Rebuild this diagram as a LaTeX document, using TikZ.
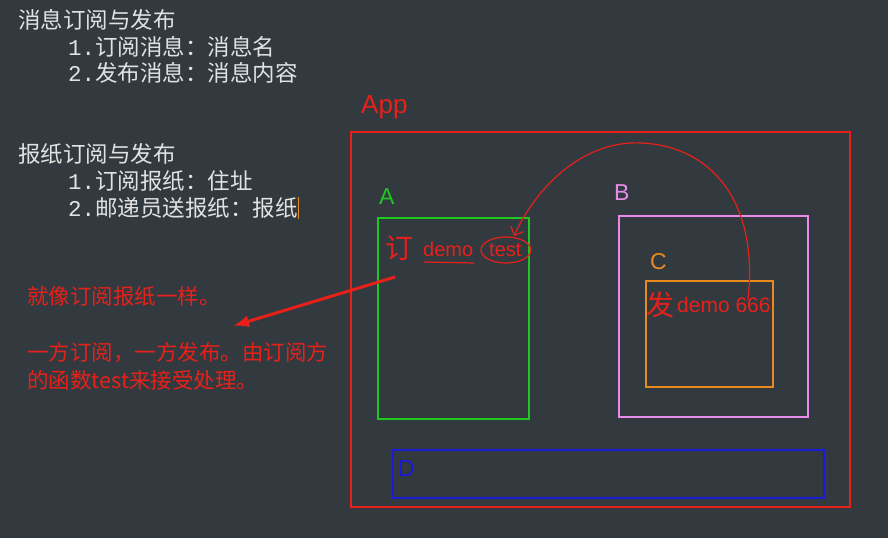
\documentclass[tikz,border=0pt]{standalone}
\usepackage{fontspec}
\setmainfont{Liberation Sans}
\newfontfamily\cjk{Noto Sans CJK SC}
\usetikzlibrary{arrows.meta}
\definecolor{bgdark}{HTML}{323A40}
\definecolor{notewhite}{HTML}{E2E2E2}
\definecolor{inkred}{HTML}{E8201A}
\definecolor{boxgreen}{HTML}{1EC81E}
\definecolor{boxpink}{HTML}{E98CE9}
\definecolor{boxorange}{HTML}{E98A1E}
\definecolor{boxblue}{HTML}{1A1AD8}
\tikzset{
  note/.style={anchor=west,inner sep=0pt,text=notewhite,font=\cjk\fontsize{22.5}{22.5}\selectfont},
  remark/.style={anchor=west,inner sep=0pt,text=inkred,font=\cjk\fontsize{21.5}{21.5}\selectfont},
  label/.style={anchor=west,inner sep=0pt,font=\fontsize{23}{23}\selectfont},
  region/.style={draw,line width=1.5pt},
  ink/.style={draw=inkred,line width=1.2pt}
}
\begin{document}
\begin{tikzpicture}[x=1pt,y=-1pt]
  \fill[bgdark] (0,0) rectangle (888,538);
  \useasboundingbox (0,0) rectangle (888,538);
  % notes
  \node[note] (n1) at (18,20) {消息订阅与发布};
  \node[note] (n2) at (68,47) {\fontspec{Liberation Mono}1.\cjk 订阅消息：消息名};
  \node[note] (n3) at (68,73) {\fontspec{Liberation Mono}2.\cjk 发布消息：消息内容};
  \node[note] (n4) at (18,154) {报纸订阅与发布};
  \node[note] (n5) at (68,181) {\fontspec{Liberation Mono}1.\cjk 订阅报纸：住址};
  \node[note] (n6) at (68,208) {\fontspec{Liberation Mono}2.\cjk 邮递员送报纸：报纸};
  \draw[boxorange,line width=1pt] ([xshift=1pt]n6.north east) -- ([xshift=1pt]n6.south east);
  % remarks
  \node[remark] (r1) at (27,296) {就像订阅报纸一样。};
  \node[remark] (r2) at (27,353) {一方订阅，一方发布。由订阅方};
  \node[remark] (r3) at (27,380) {的函数test来接受处理。};
  % regions
  \node[label,text=inkred,font=\fontsize{26}{26}\selectfont] (applbl) at (361,107) {App};
  \draw[region,inkred] (351,132) rectangle (850,507);
  \node[label,text=boxgreen] (albl) at (379,197) {A};
  \draw[region,boxgreen] (378,218) rectangle (529,419);
  \node[label,text=boxpink] (blbl) at (614,193) {B};
  \draw[region,boxpink] (619,216) rectangle (808,417);
  \node[label,text=boxorange] (clbl) at (650,262) {C};
  \draw[region,boxorange] (646,281) rectangle (773,387);
  \node[label,text=boxblue] (dlbl) at (398,469) {D};
  \draw[region,boxblue] (393,450) rectangle (824,498);
  % subscriber and publisher
  \node[remark,font=\cjk\fontsize{28}{28}\selectfont] (ding) at (385,248) {订};
  \node[remark,font=\fontsize{20}{20}\selectfont] (demoa) at (423,249) {demo};
  \node[remark,font=\fontsize{20}{20}\selectfont] (test) at (489,250) {test};
  \node[remark,font=\cjk\fontsize{28}{28}\selectfont] (fa) at (646,305) {发};
  \node[remark,font=\fontsize{21}{21}\selectfont] (democ) at (677,305) {demo 666};
  \draw[ink] (424,262) -- (474,263);
  \draw[ink] (506,250) ellipse (25pt and 13pt);
  \coordinate (pub) at (748,300);
  \draw[ink,-{Straight Barb[length=7pt]}] (pub) .. controls (760,190) and (700,140) .. (630,143)
    .. controls (570,147) and (530,200) .. (514,236);
  \draw[inkred,line width=3pt,-{Latex[length=16pt,width=12pt]}] (395,277) -- (233,326);
\end{tikzpicture}
\end{document}
